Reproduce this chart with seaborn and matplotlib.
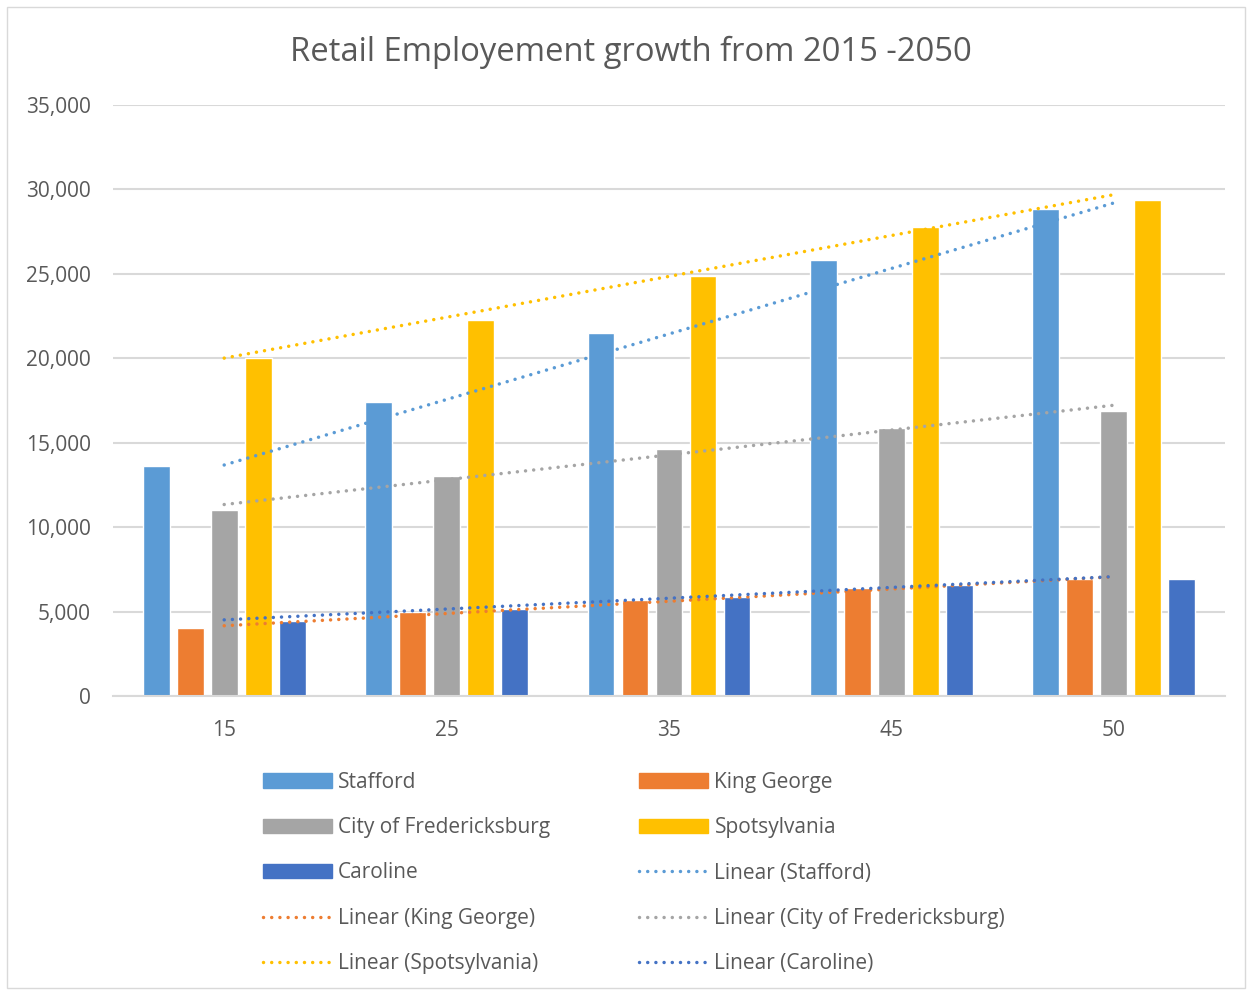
import numpy as np
import pandas as pd
import matplotlib.pyplot as plt
import seaborn as sns
from matplotlib.patches import Patch, Rectangle
from matplotlib.lines import Line2D
from matplotlib.ticker import FuncFormatter

sns.set_theme(style="white")
plt.rcParams['font.family'] = ['Open Sans', 'DejaVu Sans']

# datos
years = ['15', '25', '35', '45', '50']
counties = ['Stafford', 'King George', 'City of Fredericksburg', 'Spotsylvania', 'Caroline']
stafford = [13650, 17400, 21500, 25800, 28850]
king_george = [4050, 4950, 5700, 6400, 6950]
fredericksburg = [11000, 13000, 14600, 15900, 16900]
spotsylvania = [20000, 22250, 24900, 27750, 29350]
caroline = [4450, 5150, 5850, 6550, 6950]
colors = ['#5B9BD5', '#ED7D31', '#A5A5A5', '#FFC000', '#4472C4']

series = [stafford, king_george, fredericksburg, spotsylvania, caroline]
df = pd.DataFrame({
    'year': years * len(counties),
    'county': [c for c in counties for _ in years],
    'value': [v for s in series for v in s],
})

fig = plt.figure(figsize=(12.52, 9.9), dpi=100)
ax = fig.add_axes([113 / 1252, 1 - 696 / 990, 1112 / 1252, 591 / 990])

sns.barplot(data=df, x='year', y='value', hue='county', palette=colors,
            saturation=1, width=0.765, gap=0.21, ax=ax, legend=False, zorder=2)

# lineas de tendencia (ajuste lineal como en Excel)
dots = (0, (0.01, 2.35))
xs = np.arange(len(years))
for s, c in zip(series, colors):
    m, b = np.polyfit(xs, s, 1)
    ax.plot(xs, m * xs + b, color=c, lw=2.5, linestyle=dots,
            dash_capstyle='round', zorder=3)

ax.set_xlim(-0.5, 4.5)
ax.set_ylim(0, 35000)
ax.set_yticks(range(0, 35001, 5000))
ax.yaxis.set_major_formatter(FuncFormatter(lambda v, p: f'{int(v):,}'))
ax.grid(axis='y', color='#D9D9D9', lw=1.5, zorder=0)
ax.set_axisbelow(True)
for sp in ['top', 'right', 'left']:
    ax.spines[sp].set_visible(False)
ax.spines['bottom'].set_color('#D9D9D9')
ax.spines['bottom'].set_linewidth(1.5)
ax.tick_params(axis='both', length=0, labelsize=15, labelcolor='#595959')
ax.tick_params(axis='x', pad=17)
ax.tick_params(axis='y', pad=16)
ax.set_xlabel('')
ax.set_ylabel('')

fig.text(0.504, 1 - 52 / 990, 'Retail Employement growth from 2015 -2050',
         ha='center', va='center', fontsize=23.6, color='#595959')

# leyenda en orden de filas (Excel) -> reordenar para columnas de matplotlib
items = [Patch(color=c, label=n) for c, n in zip(colors, counties)]
items += [Line2D([], [], color=c, lw=2.5, linestyle=dots,
                 dash_capstyle='round', label=f'Linear ({n})')
          for c, n in zip(colors, counties)]
order = [0, 2, 4, 6, 8, 1, 3, 5, 7, 9]
items = [items[i] for i in order]
fig.legend(handles=items, ncol=2, loc='upper left', bbox_to_anchor=(244 / 1252, 1 - 753 / 990),
           frameon=False, fontsize=15, labelcolor='#595959', handlelength=3.3,
           handleheight=0.67, handletextpad=0.3, columnspacing=4.3, labelspacing=1.17)

fig.patches.append(Rectangle((7 / 1252, 2 / 990), 1238 / 1252, 981 / 990,
                             transform=fig.transFigure, fill=False,
                             edgecolor='#D9D9D9', lw=1))

plt.savefig('out.png', dpi=100)
